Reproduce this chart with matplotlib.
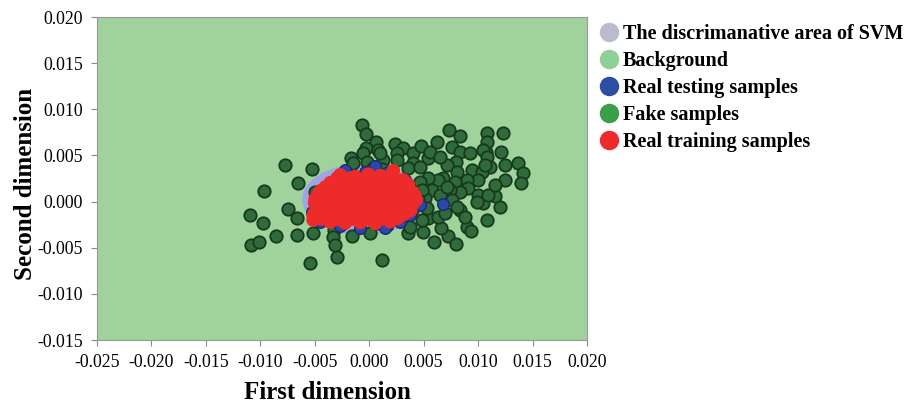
import matplotlib
matplotlib.use("Agg")
import matplotlib.pyplot as plt
from matplotlib.patches import Ellipse
from matplotlib.lines import Line2D

plt.rcParams['font.family'] = ['Liberation Serif', 'DejaVu Serif']

# ---------------- data ----------------
fake_x = [-0.00771, -0.00523, -0.00652, -0.00964, -0.01092, -0.00973, -0.00744, -0.00661,
          -0.01083, -0.01010, -0.00854, -0.00661, -0.00514, -0.00321, -0.00330, -0.00312,
          -0.00294, -0.00542, -0.00156, 0.00009, 0.00119, -0.00496, -0.00239,
          0.00358, 0.00376, 0.00496, 0.00597, 0.00725, 0.00799, 0.00661, 0.00900, 0.00936,
          0.01083, 0.01203, 0.00542, 0.00633, 0.00698, 0.00835, 0.00881, 0.01047, 0.01157,
          0.01248, 0.01248, 0.01368, 0.01414, 0.01395,
          -0.00064, -0.00028, 0.00064, -0.00028, 0.00083, -0.00165, -0.00055, 0.00239,
          0.00312, 0.00404, 0.00477, 0.00624, 0.00734, 0.00835, 0.01083, 0.01230, 0.00762,
          0.00835, 0.00927, 0.01074, 0.01212, 0.00257, 0.00257, 0.00404, 0.00542, 0.00560,
          -0.00018, 0.00129, 0.00119, 0.01083, 0.01047, 0.01083, 0.01111, 0.00799, 0.00716,
          0.00808, 0.00946, 0.01037, 0.01065, 0.01001, 0.00900, 0.00789, 0.00679, 0.00909,
          0.01001, 0.01092, 0.01157, 0.00991, 0.00835, 0.00744, 0.00762, 0.00358, 0.00468,
          0.00652, 0.00633, 0.00542, 0.00468, 0.00579, 0.00514, 0.00652, 0.00716, 0.00808,
          0.00037, 0.00487, 0.00450, 0.00395, 0.00101, -0.00147, 0.00073, 0.00165, 0.00487,
          0.00532]
fake_y = [0.00397, 0.00353, 0.00202, 0.00115, -0.00145, -0.00232, -0.00080, -0.00178,
          -0.00470, -0.00438, -0.00373, -0.00362, -0.00340, -0.00308, -0.00384, -0.00470,
          -0.00600, -0.00665, -0.00373, -0.00340, -0.00633, 0.00104, -0.00232,
          -0.00340, -0.00275, -0.00329, -0.00438, -0.00373, -0.00459, -0.00286, -0.00275,
          -0.00319, -0.00199, -0.00059, -0.00178, -0.00167, -0.00124, -0.00091, -0.00167,
          -0.00015, 0.00061, 0.00234, 0.00397, 0.00418, 0.00310, 0.00202,
          0.00830, 0.00732, 0.00646, 0.00581, 0.00559, 0.00472, 0.00527, 0.00624,
          0.00581, 0.00527, 0.00602, 0.00646, 0.00776, 0.00711, 0.00743, 0.00743, 0.00592,
          0.00537, 0.00527, 0.00537, 0.00537, 0.00527, 0.00451, 0.00418, 0.00472, 0.00537,
          0.00429, 0.00451, 0.00353, 0.00646, 0.00559, 0.00483, 0.00375, 0.00429, 0.00397,
          0.00321, 0.00342, 0.00321, 0.00397, 0.00234, 0.00234, 0.00212, 0.00256, 0.00147,
          0.00072, 0.00072, 0.00180, -0.00004, 0.00104, 0.00126, 0.00017, 0.00364, 0.00375,
          0.00483, 0.00234, 0.00256, 0.00212, 0.00126, 0.00039, 0.00072, 0.00158, -0.00059,
          0.00364, 0.00126, 0.00017, -0.00091, 0.00527, 0.00418, -0.00232, -0.00254, -0.00199,
          -0.00069]

train_x = [-0.00266, -0.00129, -0.00009, 0.00101, 0.00220,
           -0.00358, -0.00220, -0.00083, 0.00028, 0.00147, 0.00266, 0.00358,
           -0.00450, -0.00330, -0.00202, -0.00083, 0.00037, 0.00156, 0.00285, 0.00395,
           -0.00496, -0.00386, -0.00266, -0.00147, -0.00028, 0.00092, 0.00211, 0.00330, 0.00431,
           -0.00468, -0.00358, -0.00239, -0.00119, 0.00000, 0.00119, 0.00239, 0.00358,
           -0.00514, -0.00395, -0.00275, -0.00156, -0.00037, 0.00083, 0.00202, 0.00321,
           -0.00358, -0.00220, -0.00083, 0.00055, 0.00193, -0.00514, -0.00290, 0.00180,
           -0.00300, -0.00175, -0.00050, 0.00065, 0.00185, 0.00310,
           -0.00400, -0.00270, -0.00140, -0.00020, 0.00095, 0.00220, 0.00340,
           -0.00470, -0.00355, -0.00235, -0.00110, 0.00010, 0.00125, 0.00250, 0.00370, 0.00420,
           -0.00500, -0.00410, -0.00300, -0.00180, -0.00060, 0.00060, 0.00180, 0.00300, 0.00400,
           -0.00490, -0.00420, -0.00300, -0.00180, -0.00060, 0.00060, 0.00180, 0.00300, 0.00380,
           -0.00440, -0.00300, -0.00150, -0.00010, 0.00130, 0.00260]
train_y = [0.00288, 0.00270, 0.00295, 0.00280, 0.00332,
           0.00202, 0.00195, 0.00210, 0.00190, 0.00205, 0.00200, 0.00185,
           0.00115, 0.00120, 0.00110, 0.00118, 0.00108, 0.00122, 0.00112, 0.00105,
           0.00028, 0.00035, 0.00020, 0.00030, 0.00025, 0.00032, 0.00022, 0.00030, 0.00018,
           -0.00059, -0.00050, -0.00065, -0.00055, -0.00060, -0.00052, -0.00062, -0.00050,
           -0.00145, -0.00150, -0.00140, -0.00148, -0.00155, -0.00142, -0.00150, -0.00135,
           -0.00221, -0.00230, -0.00225, -0.00235, -0.00215, -0.00199, 0.00256, -0.00100,
           0.00245, 0.00250, 0.00240, 0.00248, 0.00242, 0.00235,
           0.00158, 0.00160, 0.00155, 0.00162, 0.00150, 0.00158, 0.00150,
           0.00072, 0.00075, 0.00070, 0.00078, 0.00068, 0.00074, 0.00070, 0.00075, 0.00065,
           -0.00015, -0.00010, -0.00020, -0.00012, -0.00018, -0.00014, -0.00016, -0.00010, -0.00020,
           -0.00102, -0.00098, -0.00105, -0.00100, -0.00108, -0.00100, -0.00104, -0.00098, -0.00095,
           -0.00185, -0.00190, -0.00188, -0.00192, -0.00185, -0.00180]

test_x = [-0.00321, -0.00147, 0.00055, -0.00220, -0.00431, 0.00330, 0.00422, 0.00468,
          0.00376, 0.00285, 0.00147, -0.00083, -0.00266, -0.00450, -0.00523, -0.00018,
          0.00285, 0.00679, 0.00156, -0.00037]
test_y = [0.00212, 0.00288, 0.00386, 0.00342, 0.00126, 0.00234, 0.00072, -0.00037,
          -0.00145, -0.00221, -0.00286, -0.00286, -0.00264, -0.00221, -0.00113, -0.00059,
          -0.00069, -0.00026, 0.00310, 0.00321]

svm_center = (-0.00050, 0.00025)
svm_size = (0.0113, 0.0077)

legend_labels = ["The discrimanative area of SVM", "Background", "Real testing samples",
                 "Fake samples", "Real training samples"]
x_ticks = [-0.025, -0.020, -0.015, -0.010, -0.005, 0.000, 0.005, 0.010, 0.015, 0.020]
y_ticks = [-0.015, -0.010, -0.005, 0.000, 0.005, 0.010, 0.015, 0.020]

# ---------------- plot ----------------
fig = plt.figure(figsize=(9.09, 4.03), dpi=100)
ax = fig.add_axes([0.1067, 0.1563, 0.5391, 0.8015])
ax.set_facecolor('#a0d39b')

ax.add_patch(Ellipse(svm_center, svm_size[0], svm_size[1], facecolor='#9ea5e2',
                     edgecolor='none', zorder=1))
ax.scatter(fake_x, fake_y, s=80, c='#2f6b3b', edgecolors='#173a1f', linewidths=1.3, zorder=2)
ax.scatter(test_x, test_y, s=70, c='#2b47a8', edgecolors='#1a2a70', linewidths=1.0, zorder=3)
ax.scatter(train_x, train_y, s=100, c='#ee2b2b', edgecolors='none', zorder=4)

ax.set_xlim(-0.025, 0.020)
ax.set_ylim(-0.015, 0.020)
ax.set_xticks(x_ticks)
ax.set_yticks(y_ticks)
ax.set_xticklabels([f"{v:.3f}" for v in x_ticks], fontsize=12.8)
ax.set_yticklabels([f"{v:.3f}" for v in y_ticks], fontsize=12.8)
ax.tick_params(direction='out', length=4, color='#888888', pad=6)
for sp in ax.spines.values():
    sp.set_color('#999999')

ax.set_xlabel("First dimension", fontsize=18, fontweight='bold')
ax.set_ylabel("Second dimension", fontsize=18, fontweight='bold')
ax.xaxis.set_label_coords(0.471, -0.128)
ax.yaxis.set_label_coords(-0.122, 0.483)

legend_colors = ['#b8bccc', '#8fcf98', '#2b4ea4', '#3a9f48', '#ee2b2b']
handles = [Line2D([], [], linestyle='none', marker='o', markersize=13,
                  markerfacecolor=c, markeredgecolor=c) for c in legend_colors]
leg = fig.legend(handles, legend_labels, loc='upper left', bbox_to_anchor=(0.650, 0.96),
                 frameon=False, prop={'family': 'Liberation Serif', 'weight': 'bold', 'size': 14.5},
                 handletextpad=0.2, labelspacing=0.34, handlelength=1.0, borderaxespad=0)

fig.savefig("out.png", dpi=100)
